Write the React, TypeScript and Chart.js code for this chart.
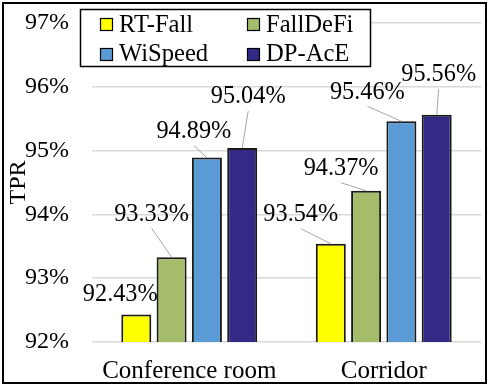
import React, { useEffect, useRef } from "react";
import { Chart, registerables } from "chart.js";

Chart.register(...registerables);

const categories = ["Conference room", "Corridor"];
const seriesNames = ["RT-Fall", "FallDeFi", "WiSpeed", "DP-AcE"];
const rtFall = [92.43, 93.54];
const fallDeFi = [93.33, 94.37];
const wiSpeed = [94.89, 95.46];
const dpAce = [95.04, 95.56];
const yTicks = [92, 93, 94, 95, 96, 97];
const seriesColors = ["#FFFF00", "#A5BD6A", "#5B9BD5", "#332A86"];

// label placement relative to bar top: [dx, dy, showLeader]
const labelPlacement: [number, number, boolean][][] = [
  [[-16, -20, false], [-30, -29, true]],
  [[-20, -43, true], [-25, -22, true]],
  [[-13, -26, true], [-34, -29, true]],
  [[6, -51, true], [2, -40, true]],
];

const FONT = '"Liberation Serif", "Times New Roman", serif';

const decorPlugin = {
  id: "decor",
  afterDatasetsDraw(chart: any) {
    const ctx = chart.ctx;
    ctx.save();
    ctx.font = `24.3px ${FONT}`;
    ctx.textAlign = "center";
    ctx.textBaseline = "middle";
    chart.data.datasets.forEach((ds: any, i: number) => {
      const meta = chart.getDatasetMeta(i);
      meta.data.forEach((bar: any, j: number) => {
        const [dx, dy, leader] = labelPlacement[i][j];
        const lx = bar.x + dx;
        const ly = bar.y + dy;
        if (leader) {
          ctx.strokeStyle = "#A6A6A6";
          ctx.lineWidth = 1;
          ctx.beginPath();
          ctx.moveTo(lx, ly + 14);
          ctx.lineTo(bar.x, bar.y);
          ctx.stroke();
        }
        ctx.fillStyle = "#000";
        ctx.fillText(ds.data[j].toFixed(2) + "%", lx, ly);
      });
    });
    ctx.restore();
  },
  afterDraw(chart: any) {
    const ctx = chart.ctx;
    ctx.save();
    // legend box
    ctx.fillStyle = "#fff";
    ctx.fillRect(80, 9, 291, 58);
    ctx.strokeStyle = "#000";
    ctx.lineWidth = 1.5;
    ctx.strokeRect(80.5, 9.5, 290, 57);
    ctx.font = `24.6px ${FONT}`;
    ctx.textAlign = "left";
    ctx.textBaseline = "alphabetic";
    chart.data.datasets.forEach((ds: any, i: number) => {
      const col = i % 2;
      const row = Math.floor(i / 2);
      const mx = col === 0 ? 100 : 247;
      const my = row === 0 ? 18 : 48;
      ctx.fillStyle = ds.backgroundColor;
      ctx.fillRect(mx, my, 13, 13);
      ctx.strokeStyle = "#000";
      ctx.lineWidth = 1.2;
      ctx.strokeRect(mx + 0.5, my + 0.5, 12, 12);
      ctx.fillStyle = "#000";
      ctx.fillText(ds.label, mx + 19, row === 0 ? 32 : 61);
    });
    // outer frame
    ctx.strokeStyle = "#000";
    ctx.lineWidth = 2;
    ctx.strokeRect(3, 3, 483, 380);
    ctx.restore();
  },
};

export default function App() {
  const ref = useRef<HTMLCanvasElement | null>(null);
  useEffect(() => {
    if (!ref.current) return;
    const values = [rtFall, fallDeFi, wiSpeed, dpAce];
    const chart = new Chart(ref.current, {
      type: "bar",
      data: {
        labels: categories,
        datasets: seriesNames.map((name, i) => ({
          label: name,
          data: values[i],
          backgroundColor: seriesColors[i],
          borderColor: "#1A1A1A",
          borderWidth: 2,
          barPercentage: 0.85,
          categoryPercentage: 0.726,
        })),
      },
      options: {
        animation: false,
        responsive: false,
        devicePixelRatio: 1,
        layout: { padding: { left: 0, right: 9, top: 23, bottom: 0 } },
        plugins: {
          legend: { display: false },
          tooltip: { enabled: false },
        },
        scales: {
          x: {
            grid: { display: false, drawTicks: false },
            border: { display: false },
            ticks: {
              color: "#000",
              font: { family: FONT, size: 25 },
              padding: 14,
            },
            afterFit(scale: any) {
              scale.height = 45;
            },
          },
          y: {
            min: 92,
            max: 97,
            grid: { color: "#D9D9D9", lineWidth: 1.5, drawTicks: false },
            border: { display: false },
            afterBuildTicks(scale: any) {
              scale.ticks = yTicks.map((v) => ({ value: v }));
            },
            ticks: {
              color: "#000",
              font: { family: FONT, size: 24 },
              padding: 23,
              callback: (v: any) => v + "%",
            },
            title: {
              display: true,
              text: "TPR",
              color: "#000",
              font: { family: FONT, size: 24 },
              padding: { top: 4, bottom: 0 },
            },
            afterFit(scale: any) {
              scale.width = 92;
              scale.paddingTop = 0;
              scale.paddingBottom = 0;
            },
          },
        },
      },
      plugins: [decorPlugin],
    });
    return () => chart.destroy();
  }, []);
  return (
    <div style={{ position: "fixed", left: 0, top: 0, width: 490, height: 387, background: "#fff" }}>
      <canvas ref={ref} width={490} height={387} />
    </div>
  );
}
